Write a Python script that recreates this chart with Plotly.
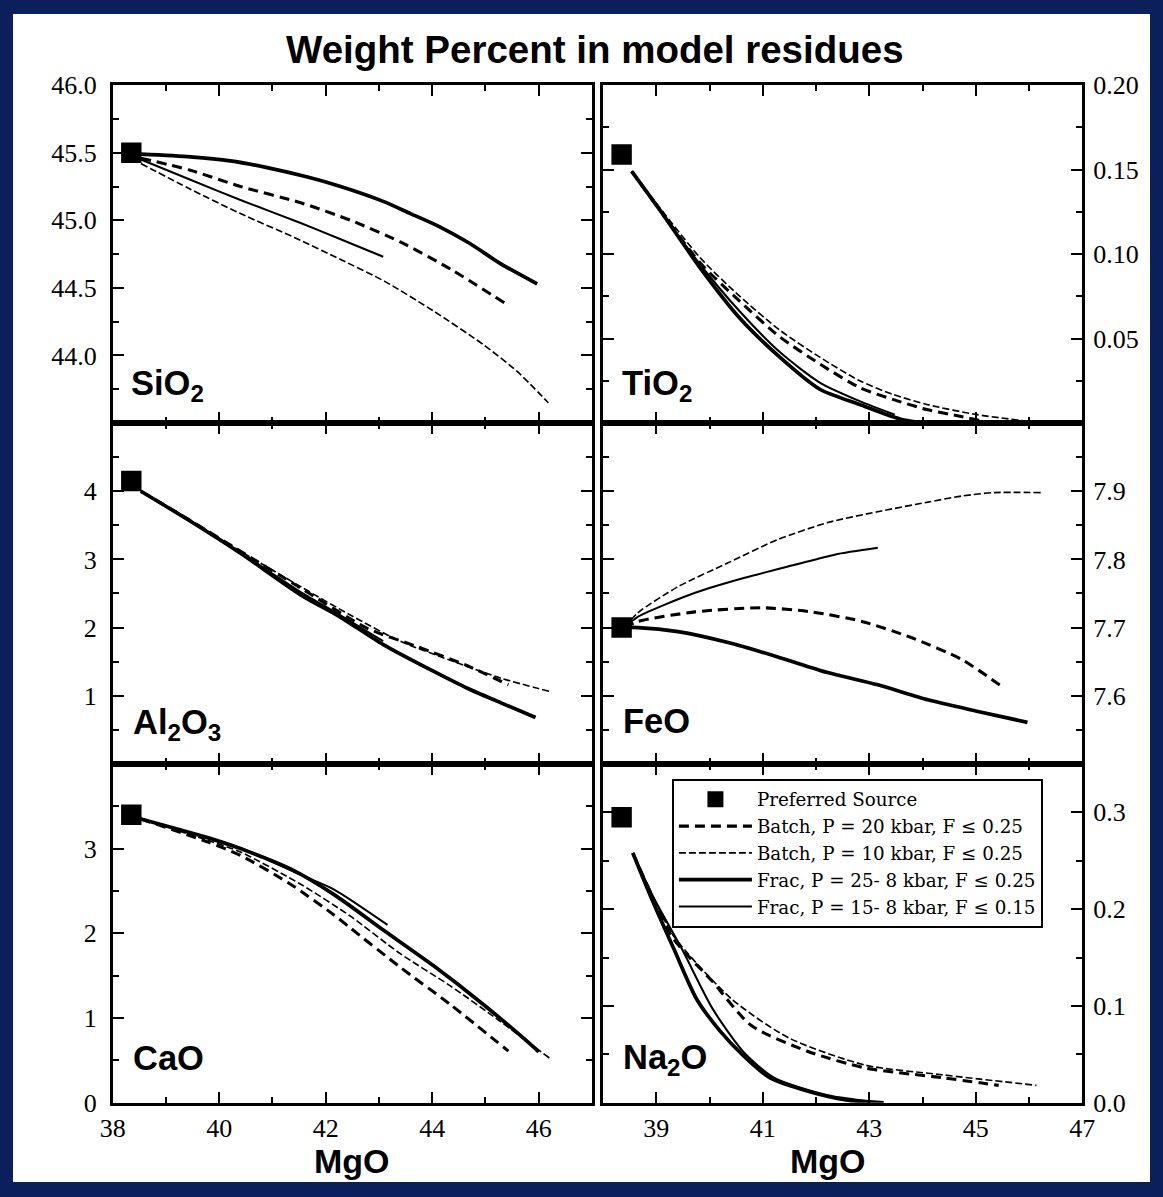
import plotly.graph_objects as go

# ---------------- data ----------------
source_mgo = 38.35
source_vals = {"SiO2": 45.5, "TiO2": 0.159, "Al2O3": 4.15, "FeO": 7.70, "CaO": 3.40, "Na2O": 0.295}

# SiO2
sio2_batch20_x = [38.53, 39.46, 40.40, 41.53, 42.47, 43.40, 44.34, 45.43]
sio2_batch20_y = [45.46, 45.37, 45.25, 45.13, 45.00, 44.84, 44.64, 44.37]
sio2_batch10_x = [38.53, 39.46, 40.40, 41.43, 42.28, 43.10, 44.02, 44.96, 45.60, 46.18]
sio2_batch10_y = [45.42, 45.23, 45.05, 44.87, 44.71, 44.55, 44.33, 44.08, 43.88, 43.65]
sio2_frac25_x = [38.53, 39.46, 40.21, 40.90, 41.66, 42.28, 43.08, 43.59, 44.15, 44.70, 45.28, 45.97]
sio2_frac25_y = [45.49, 45.47, 45.44, 45.39, 45.32, 45.25, 45.14, 45.05, 44.95, 44.83, 44.68, 44.53]
sio2_frac15_x = [38.53, 39.46, 40.40, 41.53, 42.28, 43.08]
sio2_frac15_y = [45.45, 45.30, 45.15, 44.98, 44.86, 44.73]

# TiO2
tio2_batch20_x = [38.54, 39.82, 40.57, 41.32, 42.07, 42.82, 43.44, 44.08, 44.70, 45.32]
tio2_batch20_y = [0.149, 0.095, 0.072, 0.051, 0.035, 0.021, 0.014, 0.008, 0.004, 0.0]
tio2_batch10_x = [38.54, 39.82, 40.57, 41.32, 42.07, 42.82, 43.44, 44.08, 45.02, 46.26]
tio2_batch10_y = [0.149, 0.098, 0.075, 0.055, 0.039, 0.025, 0.017, 0.011, 0.005, 0.0]
tio2_frac25_x = [38.54, 39.07, 39.82, 40.57, 41.32, 42.07, 42.82, 43.63, 44.13]
tio2_frac25_y = [0.149, 0.126, 0.092, 0.062, 0.039, 0.020, 0.011, 0.002, 0.0]
tio2_frac15_x = [38.54, 39.82, 40.57, 41.32, 42.07, 42.82, 43.48]
tio2_frac15_y = [0.149, 0.094, 0.066, 0.042, 0.024, 0.013, 0.005]

# Al2O3
al2o3_batch20_x = [38.53, 39.46, 40.40, 41.53, 42.78, 43.72, 44.66, 45.43]
al2o3_batch20_y = [4.00, 3.57, 3.12, 2.58, 1.99, 1.72, 1.44, 1.16]
al2o3_batch10_x = [38.53, 39.46, 40.40, 41.53, 42.47, 43.40, 44.34, 45.28, 46.22]
al2o3_batch10_y = [4.00, 3.57, 3.12, 2.60, 2.18, 1.80, 1.52, 1.26, 1.06]
al2o3_frac25_x = [38.53, 39.46, 40.40, 41.53, 42.28, 43.08, 44.02, 44.66, 45.28, 45.94]
al2o3_frac25_y = [4.00, 3.56, 3.09, 2.48, 2.15, 1.75, 1.36, 1.11, 0.90, 0.68]
al2o3_frac15_x = [38.53, 39.46, 40.40, 41.53, 42.28, 43.08]
al2o3_frac15_y = [4.00, 3.57, 3.10, 2.52, 2.18, 1.80]

# FeO
feo_batch20_x = [38.40, 38.66, 39.73, 40.98, 41.92, 42.86, 43.80, 44.74, 45.50]
feo_batch20_y = [7.700, 7.709, 7.723, 7.729, 7.723, 7.709, 7.685, 7.653, 7.613]
feo_batch10_x = [38.40, 38.66, 39.41, 40.35, 41.28, 42.22, 43.16, 44.10, 44.74, 45.35, 46.24]
feo_batch10_y = [7.700, 7.722, 7.760, 7.795, 7.829, 7.854, 7.870, 7.884, 7.893, 7.898, 7.898]
feo_frac25_x = [38.40, 38.66, 39.41, 40.35, 41.28, 42.22, 43.16, 44.10, 45.04, 45.97]
feo_frac25_y = [7.700, 7.700, 7.694, 7.678, 7.657, 7.634, 7.616, 7.594, 7.577, 7.561]
feo_frac15_x = [38.40, 38.66, 39.73, 40.66, 41.60, 42.35, 43.16]
feo_frac15_y = [7.700, 7.716, 7.751, 7.773, 7.792, 7.807, 7.817]

# CaO
cao_batch20_x = [38.53, 39.78, 40.40, 41.34, 42.15, 42.47, 43.40, 44.34, 45.43]
cao_batch20_y = [3.35, 3.08, 2.92, 2.58, 2.22, 2.06, 1.60, 1.16, 0.61]
cao_batch10_x = [38.53, 39.78, 40.40, 41.53, 42.47, 43.40, 44.34, 45.28, 46.24]
cao_batch10_y = [3.35, 3.10, 2.96, 2.58, 2.20, 1.76, 1.38, 0.96, 0.51]
cao_frac25_x = [38.53, 39.78, 40.40, 41.34, 42.15, 43.08, 44.02, 44.96, 45.90, 46.00]
cao_frac25_y = [3.35, 3.13, 3.00, 2.76, 2.46, 2.04, 1.62, 1.16, 0.66, 0.60]
cao_frac15_x = [38.53, 39.78, 40.40, 41.53, 42.15, 43.16]
cao_frac15_y = [3.35, 3.13, 3.01, 2.69, 2.52, 2.10]

# Na2O
na2o_batch20_x = [38.56, 38.92, 39.33, 40.06, 40.78, 41.85, 42.92, 44.36, 45.43]
na2o_batch20_y = [0.258, 0.214, 0.169, 0.125, 0.080, 0.053, 0.036, 0.026, 0.018]
na2o_batch10_x = [38.56, 38.92, 39.33, 40.42, 41.49, 42.92, 44.36, 46.14]
na2o_batch10_y = [0.258, 0.215, 0.172, 0.107, 0.067, 0.039, 0.029, 0.018]
na2o_frac25_x = [38.56, 38.92, 39.33, 39.76, 40.20, 40.63, 41.13, 41.85, 42.56, 43.27]
na2o_frac25_y = [0.258, 0.210, 0.159, 0.107, 0.074, 0.049, 0.026, 0.012, 0.003, 0.0]
na2o_frac15_x = [38.56, 38.95, 39.48, 40.06, 40.63, 41.21, 42.20, 42.92]
na2o_frac15_y = [0.258, 0.212, 0.159, 0.097, 0.053, 0.026, 0.008, 0.002]

series_names = [
    "Batch, P = 20 kbar, F ≤ 0.25",
    "Batch, P = 10 kbar, F ≤ 0.25",
    "Frac, P = 25- 8 kbar, F ≤ 0.25",
    "Frac, P = 15- 8 kbar, F ≤ 0.15",
]

panels = [
    ("SiO2", "SiO<sub>2</sub>", [(sio2_batch20_x, sio2_batch20_y), (sio2_batch10_x, sio2_batch10_y),
                                  (sio2_frac25_x, sio2_frac25_y), (sio2_frac15_x, sio2_frac15_y)]),
    ("TiO2", "TiO<sub>2</sub>", [(tio2_batch20_x, tio2_batch20_y), (tio2_batch10_x, tio2_batch10_y),
                                  (tio2_frac25_x, tio2_frac25_y), (tio2_frac15_x, tio2_frac15_y)]),
    ("Al2O3", "Al<sub>2</sub>O<sub>3</sub>", [(al2o3_batch20_x, al2o3_batch20_y), (al2o3_batch10_x, al2o3_batch10_y),
                                              (al2o3_frac25_x, al2o3_frac25_y), (al2o3_frac15_x, al2o3_frac15_y)]),
    ("FeO", "FeO", [(feo_batch20_x, feo_batch20_y), (feo_batch10_x, feo_batch10_y),
                    (feo_frac25_x, feo_frac25_y), (feo_frac15_x, feo_frac15_y)]),
    ("CaO", "CaO", [(cao_batch20_x, cao_batch20_y), (cao_batch10_x, cao_batch10_y),
                    (cao_frac25_x, cao_frac25_y), (cao_frac15_x, cao_frac15_y)]),
    ("Na2O", "Na<sub>2</sub>O", [(na2o_batch20_x, na2o_batch20_y), (na2o_batch10_x, na2o_batch10_y),
                                  (na2o_frac25_x, na2o_frac25_y), (na2o_frac15_x, na2o_frac15_y)]),
]

y_ranges = {"SiO2": [43.5, 46.0], "TiO2": [0, 0.20], "Al2O3": [0, 5], "FeO": [7.5, 8.0],
            "CaO": [0, 4], "Na2O": [0, 0.35]}
y_ticks = {"SiO2": [44.0, 44.5, 45.0, 45.5, 46.0], "TiO2": [0.05, 0.10, 0.15, 0.20],
           "Al2O3": [1, 2, 3, 4], "FeO": [7.6, 7.7, 7.8, 7.9], "CaO": [0, 1, 2, 3],
           "Na2O": [0.0, 0.1, 0.2, 0.3]}
y_ticktext = {"SiO2": ["44.0", "44.5", "45.0", "45.5", "46.0"], "TiO2": ["0.05", "0.10", "0.15", "0.20"],
              "Al2O3": ["1", "2", "3", "4"], "FeO": ["7.6", "7.7", "7.8", "7.9"], "CaO": ["0", "1", "2", "3"],
              "Na2O": ["0.0", "0.1", "0.2", "0.3"]}
y_minor = {"SiO2": [43.75, 44.25, 44.75, 45.25, 45.75], "TiO2": [0.025, 0.075, 0.125, 0.175],
           "Al2O3": [0.5, 1.5, 2.5, 3.5, 4.5], "FeO": [7.55, 7.65, 7.75, 7.85, 7.95],
           "CaO": [0.5, 1.5, 2.5, 3.5], "Na2O": [0.05, 0.15, 0.25]}

# ---------------- layout helpers ----------------
W, H = 1163, 1197
# the rendered page is shown slightly shrunk and centred; compensate
S = 0.979
OX, OY = 12.2, 12.6


def fx(X):
    return (X - OX) / S


def fy(Y):
    return (Y - OY) / S


def fs(v):
    return v / S


BG = "#0b1f5c"
SERIF = "Liberation Serif, Times New Roman, serif"
LEGSERIF = "DejaVu Serif, Liberation Serif, serif"
SANS = "Liberation Sans, Arial, sans-serif"

styles = [
    dict(color="black", width=fs(3.0), dash="10px,6px"),
    dict(color="black", width=fs(1.6), dash="7px,3px"),
    dict(color="black", width=fs(3.6), dash="solid"),
    dict(color="black", width=fs(2.0), dash="solid"),
]

col_x = [(fx(112), fx(592)), (fx(603), fx(1083))]
row_y = [(fy(84), fy(423)), (fy(423), fy(765)), (fy(765), fy(1105))]
label_pos = [(128, 385), (620, 385), (130, 725), (621, 722), (130, 1060), (621, 1062)]

fig = go.Figure()

for i, (key, label, curves) in enumerate(panels):
    ax = "" if i == 0 else str(i + 1)
    fig.add_trace(go.Scatter(
        x=[source_mgo], y=[source_vals[key]], mode="markers",
        marker=dict(symbol="square", size=fs(20), color="black"),
        name="Preferred Source", legendgroup="src", showlegend=(i == 0),
        xaxis="x" + ax, yaxis="y" + ax))

for s in range(4):
    for i, (key, label, curves) in enumerate(panels):
        ax = "" if i == 0 else str(i + 1)
        cx, cy = curves[s]
        fig.add_trace(go.Scatter(
            x=cx, y=cy, mode="lines", line=dict(shape="spline", smoothing=0.7, **styles[s]),
            name=series_names[s], legendgroup="s%d" % s, showlegend=(i == 0),
            xaxis="x" + ax, yaxis="y" + ax))

axis_common = dict(showline=True, linewidth=fs(2.5), linecolor="black", mirror="allticks",
                   ticks="inside", ticklen=fs(11), tickwidth=fs(2), tickcolor="black",
                   showgrid=False, zeroline=False,
                   tickfont=dict(family=SERIF, size=26, color="black"))

layout = dict(width=W, height=H, margin=dict(l=0, r=0, t=0, b=0),
              paper_bgcolor=BG, plot_bgcolor="white", showlegend=True)

annotations = []
for i, (key, label, curves) in enumerate(panels):
    r, c = divmod(i, 2)
    x0, x1 = col_x[c]
    y0, y1 = row_y[r]
    n = "" if i == 0 else str(i + 1)
    if c == 0:
        xt = [38, 40, 42, 44, 46]
        xm = [39, 41, 43, 45, 47]
    else:
        xt = [39, 41, 43, 45, 47]
        xm = [38, 40, 42, 44, 46]
    xa = dict(axis_common, domain=[x0 / W, x1 / W], range=[38, 47], anchor="y" + n,
              tickvals=xt, ticktext=[str(v) for v in xt], showticklabels=(r == 2),
              minor=dict(tickvals=xm, ticks="inside", ticklen=fs(6), tickwidth=fs(2), tickcolor="black"))
    ya = dict(axis_common, domain=[1 - y1 / H, 1 - y0 / H], range=y_ranges[key], anchor="x" + n,
              tickvals=y_ticks[key], ticktext=y_ticktext[key], side=("left" if c == 0 else "right"),
              ticklabelstandoff=(8 if c == 0 else 3),
              minor=dict(tickvals=y_minor[key], ticks="inside", ticklen=fs(6), tickwidth=fs(2), tickcolor="black"))
    layout["xaxis" + n] = xa
    layout["yaxis" + n] = ya
    lx, ly = label_pos[i]
    annotations.append(dict(text="<b>%s</b>" % label, x=fx(lx) / W, y=1 - fy(ly) / H, xref="paper", yref="paper",
                            xanchor="left", yanchor="middle", showarrow=False,
                            font=dict(family=SANS, size=34.5, color="black")))

annotations.append(dict(text="<b>Weight Percent in model residues</b>", x=fx(595) / W, y=1 - fy(48) / H,
                        xref="paper", yref="paper", xanchor="center", yanchor="middle", showarrow=False,
                        font=dict(family=SANS, size=38.5, color="black")))
for cx in (352, 828):
    annotations.append(dict(text="<b>MgO</b>", x=fx(cx) / W, y=1 - fy(1163) / H, xref="paper", yref="paper",
                            xanchor="center", yanchor="middle", showarrow=False,
                            font=dict(family=SANS, size=34, color="black")))

layout["annotations"] = annotations
layout["shapes"] = [dict(type="rect", xref="paper", yref="paper", x0=max(fx(12), 0) / W, x1=1,
                         y0=0, y1=1, fillcolor="white", line=dict(width=0), layer="below")]
layout["legend"] = dict(x=fx(672) / W, y=1 - fy(780) / H, xanchor="left", yanchor="top",
                        bgcolor="white", bordercolor="black", borderwidth=fs(2),
                        font=dict(family=LEGSERIF, size=18.3, color="black"),
                        itemwidth=73, tracegroupgap=0, traceorder="normal")

fig.update_layout(**layout)
fig.write_html("out.html")
